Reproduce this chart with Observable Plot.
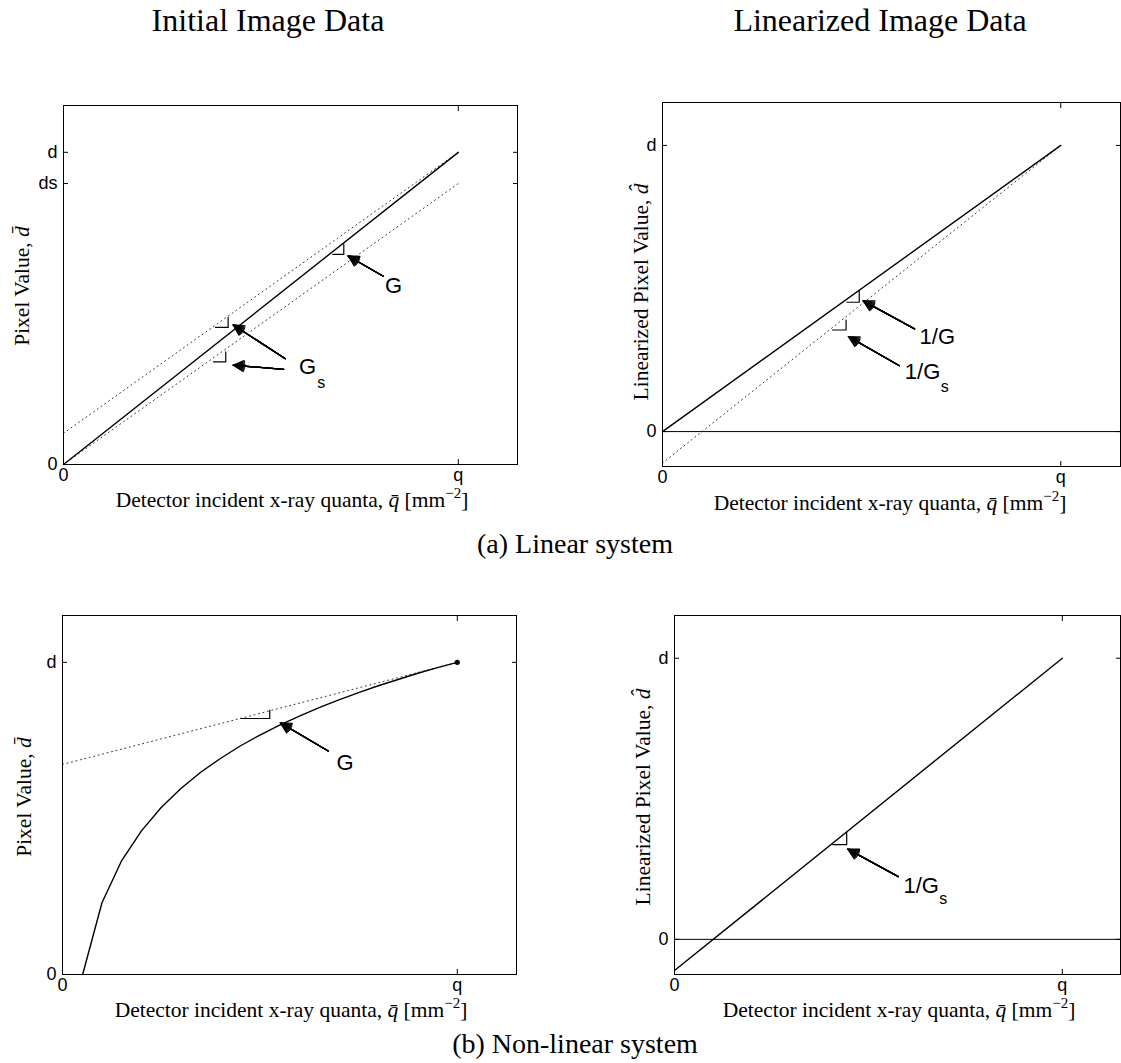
<!DOCTYPE html>
<html>
<head>
<meta charset="utf-8">
<script src="https://cdn.jsdelivr.net/npm/d3@7"></script>
<script src="https://cdn.jsdelivr.net/npm/@observablehq/plot@0.6"></script>
<style>
  body { margin: 0; background: #fff; }
  #fig { position: relative; width: 1121px; height: 1063px; overflow: hidden; background: #fff; }
  #fig svg { position: absolute; }
</style>
</head>
<body>
<div id="fig"></div>
<script>
// ---------- tick values / labels ----------
const xTickValues = [0, 1];
const xTickLabels = ["0", "q"];
const aYTickValues = [0, 0.9, 1];
const aYTickLabels = ["0", "ds", "d"];
const bYTickValues = [0, 1];
const bYTickLabels = ["0", "d"];

// ---------- (a) linear system, initial image data ----------
const aLineX = [0, 1];
const aSolidY = [0, 1];
const aDotUpperY = [0.10, 1.00];
const aDotLowerY = [0.00, 0.90];
// slope markers: [x start, x end, y base, y top]
const aSlopes = [[0.682, 0.710, 0.673, 0.706], [0.385, 0.417, 0.439, 0.471], [0.380, 0.411, 0.329, 0.361]];
// arrows: [x tail, y tail, x head, y head]
const aArrows = [[0.810, 0.603, 0.721, 0.668], [0.562, 0.339, 0.430, 0.447], [0.558, 0.305, 0.430, 0.318]];
const aLabels = [{x: 0.836, y: 0.573, t: "G"}, {x: 0.618, y: 0.312, t: "G"}];
const aSubs = [{x: 0.653, y: 0.262, t: "s"}];

// ---------- (a) linear system, linearized image data ----------
const bLineX = [0, 1];
const bSolidY = [0, 1];
const bDotY = [-0.11, 1.00];
const bSlopes = [[0.463, 0.494, 0.452, 0.490], [0.427, 0.461, 0.355, 0.390]];
const bArrows = [[0.633, 0.359, 0.504, 0.457], [0.595, 0.230, 0.467, 0.332]];
const bLabels = [{x: 0.690, y: 0.331, t: "1/G"}, {x: 0.653, y: 0.207, t: "1/G"}];
const bSubs = [{x: 0.709, y: 0.155, t: "s"}];

// ---------- (b) non-linear system, initial image data ----------
const cCurveX = [0.051, 0.10, 0.15, 0.20, 0.25, 0.30, 0.35, 0.40, 0.45, 0.50, 0.55, 0.60, 0.65, 0.70, 0.75, 0.80, 0.85, 0.90, 0.95, 1.00];
const cCurveY = [0.000, 0.230, 0.365, 0.460, 0.535, 0.596, 0.648, 0.692, 0.732, 0.767, 0.799, 0.828, 0.855, 0.880, 0.903, 0.925, 0.945, 0.965, 0.983, 1.000];
const cTangentX = [0, 1];
const cTangentY = [0.673, 1.000];
const cEndX = [1];
const cEndY = [1];
const cSlopes = [[0.452, 0.525, 0.820, 0.847]];
const cArrows = [[0.673, 0.716, 0.552, 0.806]];
const cLabels = [{x: 0.716, y: 0.678, t: "G"}];

// ---------- (b) non-linear system, linearized image data ----------
const dLineX = [0, 1];
const dLineY = [-0.111, 1.000];
const dSlopes = [[0.408, 0.444, 0.337, 0.381]];
const dArrows = [[0.577, 0.223, 0.447, 0.321]];
const dLabels = [{x: 0.636, y: 0.190, t: "1/G"}];
const dSubs = [{x: 0.693, y: 0.145, t: "s"}];

// ---------- helpers ----------
const fig = document.getElementById("fig");
const SANS = "Liberation Sans, Arial, sans-serif";
const SERIF = "Liberation Serif, Times New Roman, serif";

function lineFrom(xs, ys, opts) {
  return Plot.line(xs.map((x, i) => ({x, y: ys[i]})), {x: "x", y: "y", stroke: "black", ...opts});
}
function slopeMarks(arr) {
  const pts = arr.flatMap((s, k) => [{x: s[0], y: s[2], k}, {x: s[1], y: s[2], k}, {x: s[1], y: s[3], k}]);
  return Plot.line(pts, {x: "x", y: "y", z: "k", stroke: "black", strokeWidth: 1.2});
}
function arrowMarks(arr) {
  return [56, 44, 32, 20, 8].map(a => Plot.arrow(arr, {
    x1: d => d[0], y1: d => d[1], x2: d => d[2], y2: d => d[3],
    headAngle: a, headLength: 13.5, strokeWidth: 1.3, stroke: "black"
  }));
}
function labelMarks(labels, subs) {
  const m = [Plot.text(labels, {x: "x", y: "y", text: "t", fontSize: 22, fontFamily: SANS, fill: "black"})];
  if (subs) m.push(Plot.text(subs, {x: "x", y: "y", text: "t", fontSize: 16, fontFamily: SANS, fill: "black"}));
  return m;
}
const dotted = {strokeDasharray: "1,3.6", strokeWidth: 1, stroke: "#333"};

function panel(frame, yDomain, yTickValues, yTickLabels, marks) {
  const M = 40;
  const svg = Plot.plot({
    width: frame.r - frame.l + 2 * M,
    height: frame.b - frame.t + 2 * M,
    marginLeft: M, marginRight: M, marginTop: M, marginBottom: M,
    x: {domain: [0, 1.15]},
    y: {domain: yDomain},
    style: {background: "none", overflow: "visible", fontFamily: SANS, fontSize: "18px", color: "black"},
    marks: [
      ...marks,
      Plot.frame({stroke: "black", strokeWidth: 1}),
      Plot.axisX(xTickValues, {anchor: "bottom", tickSize: -5, tickPadding: 9, label: null,
        fontSize: 18, fontFamily: SANS, tickFormat: d => xTickLabels[xTickValues.indexOf(d)]}),
      Plot.axisX(xTickValues, {anchor: "top", tickSize: -5, label: null, tickFormat: () => ""}),
      Plot.axisY(yTickValues, {anchor: "left", tickSize: -5, tickPadding: 11, label: null,
        fontSize: 18, fontFamily: SANS, tickFormat: d => yTickLabels[yTickValues.indexOf(d)]}),
      Plot.axisY(yTickValues, {anchor: "right", tickSize: -5, label: null, tickFormat: () => ""})
    ]
  });
  svg.style.left = (frame.l - M) + "px";
  svg.style.top = (frame.t - M) + "px";
  fig.appendChild(svg);
}

// ---------- panels ----------
panel({l: 63, r: 517, t: 105, b: 464}, [0, 1.15], aYTickValues, aYTickLabels, [
  lineFrom(aLineX, aDotUpperY, dotted),
  lineFrom(aLineX, aDotLowerY, dotted),
  lineFrom(aLineX, aSolidY, {strokeWidth: 1.4}),
  slopeMarks(aSlopes),
  ...arrowMarks(aArrows),
  ...labelMarks(aLabels, aSubs)
]);

panel({l: 662, r: 1120, t: 102, b: 466}, [-0.122, 1.15], bYTickValues, bYTickLabels, [
  Plot.ruleY([0], {stroke: "black", strokeWidth: 1}),
  lineFrom(bLineX, bDotY, dotted),
  lineFrom(bLineX, bSolidY, {strokeWidth: 1.4}),
  slopeMarks(bSlopes),
  ...arrowMarks(bArrows),
  ...labelMarks(bLabels, bSubs)
]);

panel({l: 62, r: 516, t: 615, b: 974}, [0, 1.15], bYTickValues, bYTickLabels, [
  lineFrom(cTangentX, cTangentY, dotted),
  lineFrom(cCurveX, cCurveY, {strokeWidth: 1.4}),
  Plot.dot(cEndX.map((x, i) => ({x, y: cEndY[i]})), {x: "x", y: "y", r: 2.6, fill: "black", stroke: "none"}),
  slopeMarks(cSlopes),
  ...arrowMarks(cArrows),
  ...labelMarks(cLabels)
]);

panel({l: 674, r: 1120, t: 615, b: 974}, [-0.125, 1.152], bYTickValues, bYTickLabels, [
  Plot.ruleY([0], {stroke: "black", strokeWidth: 1}),
  lineFrom(dLineX, dLineY, {strokeWidth: 1.4}),
  slopeMarks(dSlopes),
  ...arrowMarks(dArrows),
  ...labelMarks(dLabels, dSubs)
]);

// ---------- titles, axis labels, captions ----------
const over = d3.select(fig).append("svg")
  .attr("width", 1121).attr("height", 1063)
  .style("left", "0px").style("top", "0px")
  .attr("font-family", SERIF).attr("fill", "black");

function title(x, y, txt, size) {
  over.append("text").attr("x", x).attr("y", y).attr("text-anchor", "middle")
    .attr("font-size", size).text(txt);
}
title(268, 31, "Initial Image Data", 32);
title(880, 31, "Linearized Image Data", 32);
title(575, 553, "(a) Linear system", 28);
title(575, 1053, "(b) Non-linear system", 28);

function xLabel(x, y) {
  const t = over.append("text").attr("x", x).attr("y", y).attr("text-anchor", "middle").attr("font-size", 21.5);
  t.append("tspan").text("Detector incident x-ray quanta, ");
  t.append("tspan").attr("font-style", "italic").text("q\u0304");
  t.append("tspan").text(" [mm");
  t.append("tspan").attr("font-size", 15).attr("dy", -9).text("\u22122");
  t.append("tspan").attr("dy", 9).text("]");
}
xLabel(292, 507);
xLabel(890, 510);
xLabel(291, 1017);
xLabel(899, 1017);

function yLabel(x, y, prefix, accent) {
  const t = over.append("text").attr("transform", `translate(${x},${y}) rotate(-90)`)
    .attr("text-anchor", "middle").attr("font-size", 21.5);
  t.append("tspan").text(prefix);
  t.append("tspan").attr("font-style", "italic").text("d" + accent);
}
yLabel(29, 286, "Pixel Value, ", "\u0304");
yLabel(648, 292, "Linearized Pixel Value, ", "\u0302");
yLabel(31, 797, "Pixel Value, ", "\u0304");
yLabel(650, 797, "Linearized Pixel Value, ", "\u0302");
</script>
</body>
</html>
